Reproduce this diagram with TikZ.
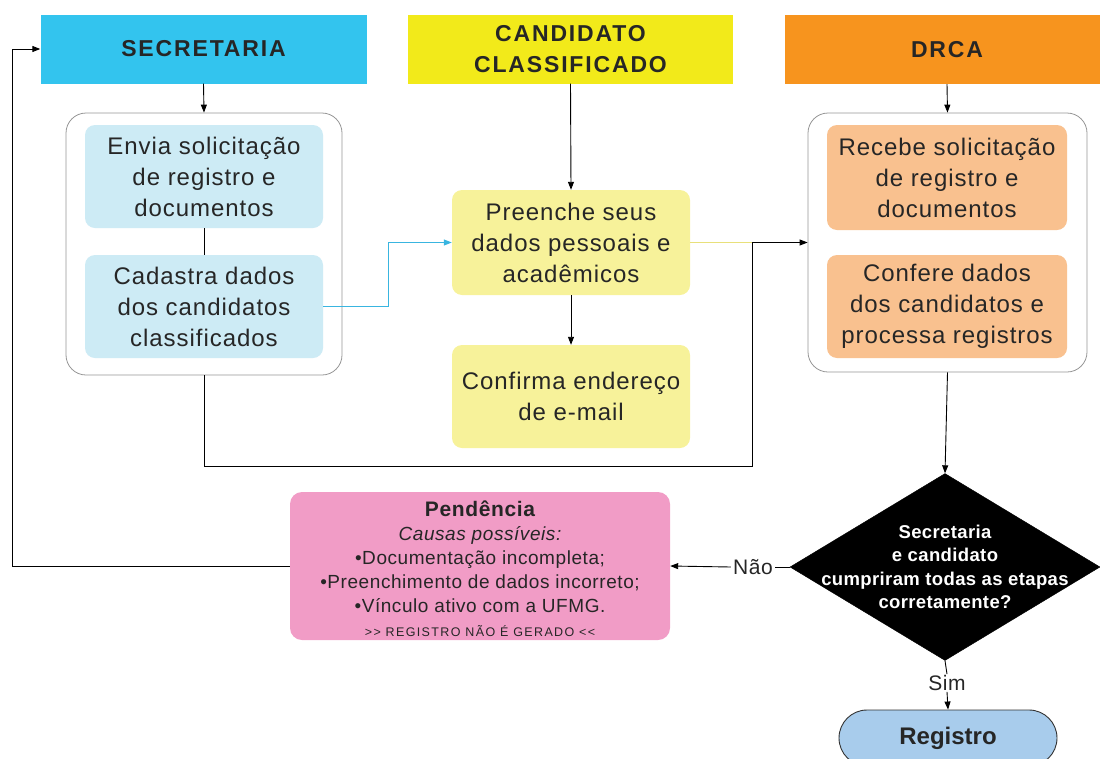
\documentclass[tikz,border=0pt]{standalone}
\usepackage{fontspec}
\setmainfont{Liberation Sans}
\newfontfamily\hdrfont[LetterSpace=8]{Liberation Sans}
\newfontfamily\boxfont[LetterSpace=4]{Liberation Sans}
\newfontfamily\pendfont[LetterSpace=3]{Liberation Sans}
\newfontfamily\smallcapsline[LetterSpace=11]{Liberation Sans}
\newfontfamily\diafont[LetterSpace=2]{Liberation Sans}
\usetikzlibrary{shapes.geometric,shapes.misc,arrows.meta}
\definecolor{hdrcyan}{RGB}{51,196,238}
\definecolor{hdryellow}{RGB}{242,234,26}
\definecolor{hdrorange}{RGB}{247,148,30}
\definecolor{boxblue}{RGB}{205,235,245}
\definecolor{boxyellow}{RGB}{247,242,154}
\definecolor{boxorange}{RGB}{249,193,143}
\definecolor{boxpink}{RGB}{241,156,198}
\definecolor{regblue}{RGB}{168,204,236}
\definecolor{linkblue}{RGB}{57,181,224}
\definecolor{linkyellow}{RGB}{232,224,122}
\definecolor{contgray}{RGB}{150,150,150}
\tikzset{
  header/.style={draw=none, inner sep=0pt, minimum height=69pt, minimum width=326pt, align=center,
    font=\hdrfont\fontsize{23}{31}\selectfont\bfseries, text=black!85},
  container/.style={draw=contgray, line width=0.8pt, fill=white, rounded corners=20pt, inner sep=0pt},
  stepbox/.style={draw=none, rounded corners=10pt, inner sep=0pt, minimum width=238pt,
    minimum height=103pt, align=center, font=\boxfont\fontsize{24}{31}\selectfont, text=black!85},
  lbl/.style={font=\pendfont\fontsize{21}{24}\selectfont, text=black!85},
  conn/.style={draw=black, line width=0.9pt},
  arr/.style={conn, -{Triangle[length=8pt,width=6pt]}},
}
\begin{document}
\begin{tikzpicture}[x=1pt,y=-1pt]
\useasboundingbox (0,0) rectangle (1100,758);
\clip (0,0) rectangle (1100,758);
% headers
\node[header, fill=hdrcyan] (sec) at (203.5,49) {SECRETARIA};
\node[header, fill=hdryellow, minimum width=325pt] (cand) at (570.5,49) {CANDIDATO\\CLASSIFICADO};
\node[header, fill=hdrorange, minimum width=324pt] (drca) at (947,49.5) {DRCA};
% containers
\node[container, minimum width=276pt, minimum height=262pt] (seccont) at (204,244) {};
\node[container, minimum width=279pt, minimum height=259pt] (drcacont) at (947.5,242.5) {};
% secretaria steps
\node[stepbox, fill=boxblue] (envia) at (204,176.5) {Envia solicitação\\de registro e\\documentos};
\node[stepbox, fill=boxblue] (cad) at (204,306.5) {Cadastra dados\\dos candidatos\\classificados};
% candidato steps
\node[stepbox, fill=boxyellow, minimum height=105pt] (pre) at (571,242.5) {Preenche seus\\dados pessoais e\\acadêmicos};
\node[stepbox, fill=boxyellow] (conf) at (571,396.5) {Confirma endereço\\de e-mail};
% drca steps
\node[stepbox, fill=boxorange, minimum width=240pt, minimum height=105pt] (rec) at (947,177.5) {Recebe solicitação\\de registro e\\documentos};
\node[stepbox, fill=boxorange, minimum width=240pt] (cnf) at (947,306.5) {Confere dados\\dos candidatos e\\processa registros};
% decision
\node[diamond, fill=black, draw=black, inner sep=0pt, minimum width=310pt, minimum height=187pt] (dia) at (945,567) {};
\node[align=center, text=white, font=\diafont\fontsize{18.5}{23.5}\selectfont\bfseries] (diatext) at (dia.center) {Secretaria\\e candidato\\cumpriram todas as etapas\\corretamente?};
% pendencia
\node[draw=none, fill=boxpink, rounded corners=12pt, minimum width=380pt, minimum height=148pt, inner sep=0pt] (pend) at (480,566) {};
\node[align=center, font=\pendfont\fontsize{19}{24}\selectfont, text=black!85] (pendtext) at ([yshift=-3pt]pend.center) {%
  {\fontsize{21}{24}\selectfont\bfseries Pendência}\\
  {\itshape Causas possíveis:}\\
  •Documentação incompleta;\\
  •Preenchimento de dados incorreto;\\
  •Vínculo ativo com a UFMG.\\
  {\smallcapsline\fontsize{12.5}{22}\selectfont >{}> REGISTRO NÃO É GERADO <{}<}};
% labels
\node[lbl, fill=white, inner sep=2pt] (nao) at (753,567) {Não};
\node[lbl, inner sep=1pt] (sim) at (947,683) {Sim};
% registro
\node[rounded rectangle, draw=black!80, line width=0.9pt, fill=regblue, minimum width=218pt, minimum height=56pt, inner sep=0pt,
  font=\fontsize{24}{28}\selectfont\bfseries, text=black!85] (reg) at (948,738) {Registro};
% coordinates
\coordinate (jn) at (752,466);
\coordinate (jt) at (752,242.5);
\coordinate (back) at (12,566);
% connectors
\draw[arr] (sec.south) -- (seccont.north);
\draw[conn] (envia.south) -- (cad.north);
\draw[arr] (cand.south) -- (pre.north);
\draw[arr] (pre.south) -- (conf.north);
\draw[arr] (drca.south) -- (drcacont.north);
\draw[line width=1pt, draw=linkblue, -{Triangle[length=8pt,width=6pt]}] (cad.east) -- ++(65,0) |- (pre.west);
\draw[line width=1pt, draw=linkyellow] (pre.east) -- (jt);
\draw[conn] (seccont.south) |- (jn) -- (jt);
\draw[arr] (jt) -- (drcacont.west);
\draw[arr] (drcacont.south) -- (dia.north);
\draw[conn] (dia.west) -- (nao.east);
\draw[arr] (nao.west) -- (pend.east);
\draw[conn] (pend.west) -- (back);
\draw[arr] (back) |- (sec.west);
\draw[conn] (dia.south) -- (sim.north);
\draw[arr] (sim.south) -- (reg.north);
\end{tikzpicture}
\end{document}
